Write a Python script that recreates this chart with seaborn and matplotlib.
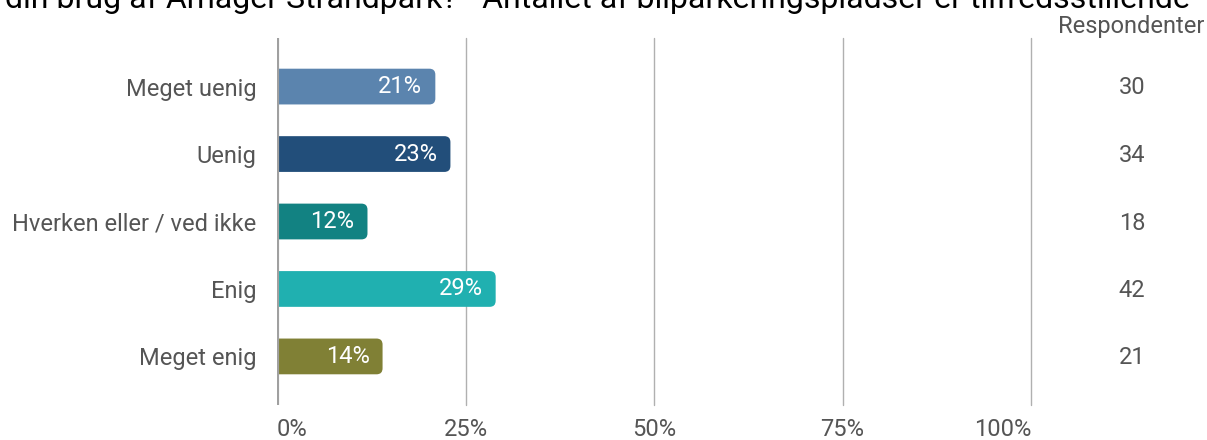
import matplotlib
matplotlib.use('Agg')
import matplotlib.pyplot as plt
import seaborn as sns
import pandas as pd
from matplotlib.patches import FancyBboxPatch

# data
categories = ['Meget uenig', 'Uenig', 'Hverken eller / ved ikke', 'Enig', 'Meget enig']
percents = [21, 23, 12, 29, 14]
respondents = [30, 34, 18, 42, 21]
colors = ['#5b84ae', '#224e7a', '#128282', '#20b0b0', '#808035']
xticks = [0, 25, 50, 75, 100]
xtick_labels = ['0%', '25%', '50%', '75%', '100%']
title = 'din brug af Amager Strandpark? - Antallet af bilparkeringspladser er tilfredsstillende'

df = pd.DataFrame({'Svar': categories, 'Procent': percents, 'Respondenter': respondents})

sns.set_style('white')
plt.rcParams['font.family'] = ['Roboto', 'DejaVu Sans']

fig = plt.figure(figsize=(12.07, 4.4), dpi=100)
ax = fig.add_axes([277 / 1207, 1 - 405 / 440, 754 / 1207, 367 / 440])

sns.barplot(data=df, y='Svar', x='Procent', hue='Svar', palette=colors,
            orient='h', width=0.53, legend=False, ax=ax, saturation=1)

ax.set_xlim(0, 100)
ax.set_ylim(4.72, -0.72)

# replace the bars with rounded ones
px_x = 100 / 754
px_y = 5.44 / 367
for p in list(ax.patches):
    x0, y0 = p.get_x(), p.get_y()
    w, h = p.get_width(), p.get_height()
    fb = FancyBboxPatch((x0 - 2, y0), w + 2, h,
                        boxstyle='round,pad=0,rounding_size=%f' % (6 * px_x),
                        mutation_aspect=px_y / px_x,
                        facecolor=p.get_facecolor(), edgecolor='none', zorder=2)
    p.remove()
    ax.add_patch(fb)

# percent labels inside bars
for i, v in enumerate(percents):
    ax.text(v - 13 * px_x, i, '%d%%' % v, ha='right', va='center',
            color='white', fontsize=17, zorder=3)

# respondent counts on the right
for i, n in enumerate(respondents):
    ax.text(1132 / 1207, 1 - (88 + 67.5 * i) / 440, str(n), transform=fig.transFigure,
            ha='center', va='center', color='#555555', fontsize=17)
fig.text(1131 / 1207, 1 - 26 / 440, 'Respondenter', ha='center', va='center',
         color='#555555', fontsize=17)

# grid
for t in xticks[1:]:
    ax.axvline(t, color='#b0b0b0', lw=1, zorder=0, clip_on=False)
ax.axvline(0, color='#a0a0a0', lw=3, zorder=4)

for s in ax.spines.values():
    s.set_visible(False)

ax.set_xticks(xticks)
ax.set_xticklabels(xtick_labels, fontsize=17, color='#555555')
ax.tick_params(axis='x', length=0, pad=9)
ax.tick_params(axis='y', length=0, pad=15, labelsize=17, labelcolor='#555555')
tl = ax.get_xticklabels()
tl[0].set_ha('left')
tl[-1].set_ha('right')
ax.set_xlabel('')
ax.set_ylabel('')
tl[0].set_x(-0.5)

fig.text(597 / 1207, 1 - 8 / 440, title, ha='center', va='baseline',
         fontsize=23, color='black')

fig.savefig('out.png', dpi=100)
